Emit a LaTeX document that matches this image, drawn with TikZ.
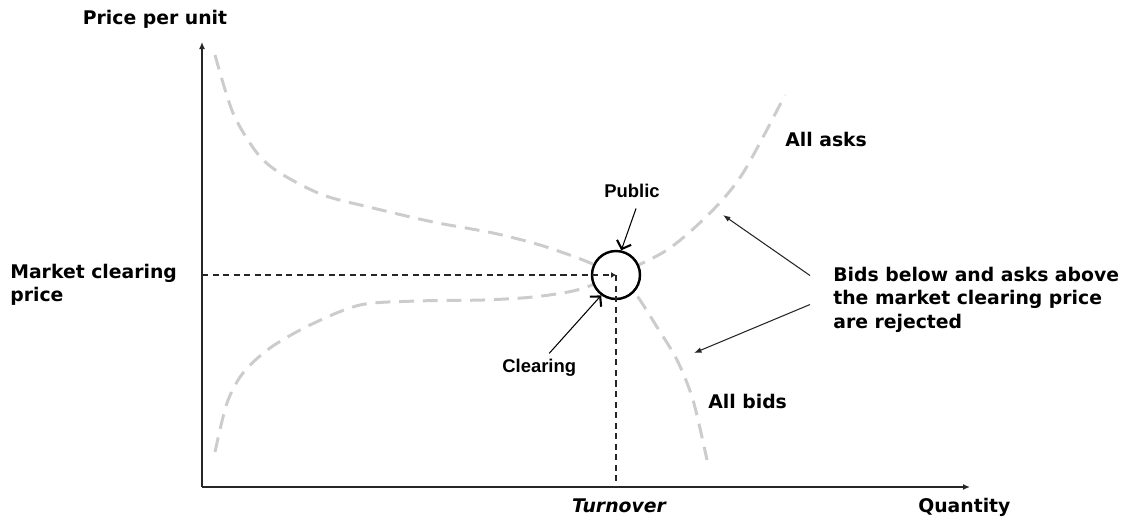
\documentclass[tikz,border=0pt]{standalone}
\usepackage{fontspec}
\setmainfont{DejaVu Sans}
\newfontfamily\arialfont{Liberation Sans}
\usepackage{tikz}
\usetikzlibrary{arrows.meta,calc}
\newcommand{\lblfont}{\fontsize{10.7}{13.3}\selectfont\bfseries}
\newcommand{\notefont}{\arialfont\fontsize{10.5}{12}\selectfont\bfseries}

\begin{document}
\begin{tikzpicture}[x=0.02cm,y=-0.02cm,>=Latex,
  curve/.style={line width=1.7pt,black!20,dash pattern=on 8.5pt off 5pt},
  guide/.style={line width=0.7pt,black!85,dash pattern=on 3.5pt off 2.5pt},
  axis/.style={line width=0.9pt,black!85,-{Latex[length=1.4mm,width=1.2mm]}},
  lbl/.style={font=\lblfont,inner sep=0pt},
  note/.style={font=\notefont,inner sep=0pt},
  pointer/.style={line width=0.6pt,-{Straight Barb[length=1.4mm,width=3mm,line width=1.2pt]}},
  reject/.style={line width=0.6pt,black!85,-{Latex[length=1.5mm,width=1.1mm]}}]
\useasboundingbox (0,0) rectangle (1130,518);
% ---- axes ----
\coordinate (origin) at (202,487);
\coordinate (qend) at (970,487);
\coordinate (pend) at (202,42);
\draw[axis] (origin) -- (qend);
\draw[axis] (origin) -- (pend);
\node[lbl,anchor=base] (plabel) at (155,24) {Price per unit};
\node[lbl,anchor=base west] (qlabel) at (918,512) {Quantity};
% ---- all bids (falling) and all asks (rising) ----
\draw[curve] plot[smooth] coordinates {(215,55) (233,113) (257,153) (280,173) (323,195) (373,208)
  (433,222) (493,233) (540,245) (583,260) (616,275) (635,293) (657,327) (677,360) (693,400) (707,460)};
\draw[curve] plot[smooth] coordinates {(215,452) (227,403) (243,373) (270,348) (310,325) (360,305)
  (417,301) (483,300) (533,297) (577,290) (616,275) (667,250) (710,213) (743,173) (785,95)};
\node[lbl,anchor=base west] (asks) at (785,146) {All asks};
\node[lbl,anchor=base west] (bids) at (708,408) {All bids};
% ---- clearing point ----
\node[circle,draw,fill=white,line width=1.4pt,minimum size=0.96cm,inner sep=0pt] (mcp) at (616,275) {};
\draw[guide,-{Latex[length=1mm,width=1.2mm]}] (origin |- mcp.center) -- (mcp.center);
\draw[guide] (mcp.center) -- (mcp.center |- origin);
% (base of a two-line node = baseline of its last line)
\node[lbl,anchor=base west,align=left] (mcplabel) at (10,301.5) {Market clearing\\price};
\node[lbl,anchor=base] (turnover) at (619,512) {\itshape Turnover};
% ---- pointers to the circle ----
\node[note,anchor=base west] (public) at (604,197) {Public};
\node[note,anchor=base west] (clearing) at (502,372) {Clearing};
\draw[pointer] ([shift={(4,11)}]public.south) -- (mcp.78);
\draw[pointer] ([shift={(10,-5)}]clearing.north) -- (mcp.234);
% ---- rejected orders ----
\node[lbl,anchor=base west,align=left] (rej) at (833,328)
  {Bids below and asks above\\the market clearing price\\are rejected};
\coordinate (askpt) at (723,215);
\coordinate (bidpt) at (694,353);
\draw[reject] ([shift={(-23,-24)}]rej.west) -- (askpt);
\draw[reject] ([shift={(-23,5)}]rej.west) -- (bidpt);
\end{tikzpicture}
\end{document}
